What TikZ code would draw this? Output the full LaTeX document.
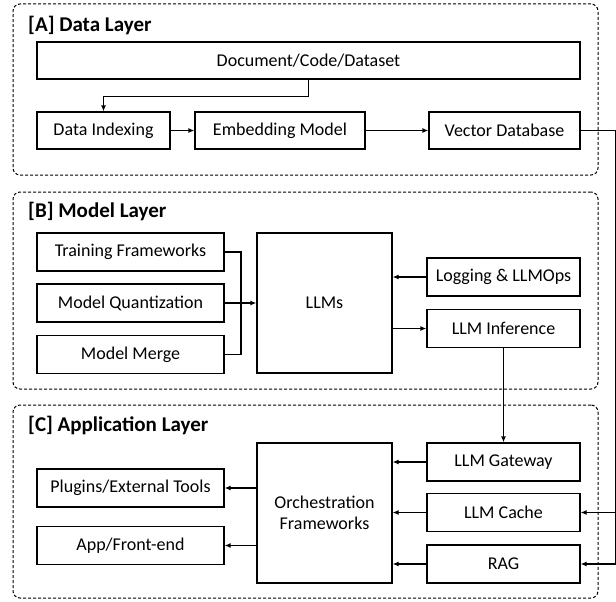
\documentclass[tikz,border=0pt]{standalone}
\usepackage{fontspec}
\setmainfont{Carlito}
\usetikzlibrary{positioning,arrows.meta}

\begin{document}
\begin{tikzpicture}[x=1pt,y=-1pt]
  % Settings
  \tikzset{
    layer/.style={draw, dash pattern=on 3pt off 2pt, rounded corners=7pt, line width=1pt, minimum width=585pt},
    ttl/.style={anchor=west, inner sep=0pt, font=\fontsize{21}{24}\selectfont\bfseries},
    blk/.style={draw, line width=1.2pt, align=center, inner sep=0pt, font=\fontsize{18}{21}\selectfont},
    arr/.style={line width=1.2pt, -{Latex[length=6pt,width=5pt]}},
    ln/.style={line width=1.2pt},
  }
  \useasboundingbox (0,0) rectangle (616,602);

  % Layers
  \node[layer, minimum height=171pt] (datalayer) at (305.5,89.5) {};
  \node[ttl] (datattl) at (28,25) {[A] Data Layer};
  \node[layer, minimum height=197pt] (modellayer) at (305.5,290.5) {};
  \node[ttl] (modelttl) at (28,211) {[B] Model Layer};
  \node[layer, minimum height=193pt] (applayer) at (305.5,501.5) {};
  \node[ttl] (appttl) at (28,425) {[C] Application Layer};

  % Data layer
  \node[blk, minimum width=543pt, minimum height=37pt] (docs) at (308.5,60.5) {Document/Code/Dataset};
  \node[blk, minimum width=133pt, minimum height=37pt] (indexing) at (103.5,130.5) {Data Indexing};
  \node[blk, minimum width=170pt, minimum height=37pt] (embedding) at (280,130.5) {Embedding Model};
  \node[blk, minimum width=151pt, minimum height=37pt] (vectordb) at (504.5,130.5) {Vector Database};

  % Model layer
  \node[blk, minimum width=187pt, minimum height=38pt] (training) at (130.5,252) {Training Frameworks};
  \node[blk, minimum width=187pt, minimum height=38pt] (quant) at (130.5,303) {Model Quantization};
  \node[blk, minimum width=187pt, minimum height=38pt] (merge) at (130.5,354.5) {Model Merge};
  \node[blk, minimum width=135pt, minimum height=140pt] (llms) at (324.5,303) {LLMs};
  \node[blk, minimum width=153pt, minimum height=38pt] (logging) at (503.5,277) {Logging \& LLMOps};
  \node[blk, minimum width=153pt, minimum height=38pt] (inference) at (503.5,328.5) {LLM Inference};

  % Application layer
  \node[blk, minimum width=187pt, minimum height=38pt] (plugins) at (130.5,488) {Plugins/External Tools};
  \node[blk, minimum width=187pt, minimum height=38pt] (frontend) at (130.5,545.5) {App/Front-end};
  \node[blk, minimum width=135pt, minimum height=140pt] (orch) at (324.5,513) {Orchestration\\Frameworks};
  \node[blk, minimum width=153pt, minimum height=38pt] (gateway) at (503.5,462) {LLM Gateway};
  \node[blk, minimum width=153pt, minimum height=38pt] (cache) at (503.5,512.5) {LLM Cache};
  \node[blk, minimum width=153pt, minimum height=38pt] (rag) at (503.5,564) {RAG};

  % Arrows
  \draw[arr] (docs.south) -- ++(0,17) -| (indexing);
  \draw[arr] (indexing) -- (embedding);
  \draw[arr] (embedding) -- (vectordb);

  \coordinate (join) at (241,303);
  \draw[ln] (training.east) -| (join);
  \draw[ln] (merge.east) -| (join);
  \draw[arr] (quant) -- (llms);
  \draw[arr] (logging.west) -- (logging.west -| llms.east);
  \draw[arr] (inference.west -| llms.east) -- (inference.west);
  \draw[arr] (inference) -- (gateway);

  \coordinate (rside) at ([xshift=35pt]vectordb.east);
  \draw[arr] (vectordb.east) -- (rside) |- (rag.east);
  \draw[arr] (rside |- cache.east) -- (cache.east);

  \foreach \src in {gateway,cache,rag} {\draw[arr] (\src.west) -- (\src.west -| orch.east);}
  \draw[arr] (plugins.east -| orch.west) -- (plugins.east);
  \draw[arr] (frontend.east -| orch.west) -- (frontend.east);

\end{tikzpicture}
\end{document}
